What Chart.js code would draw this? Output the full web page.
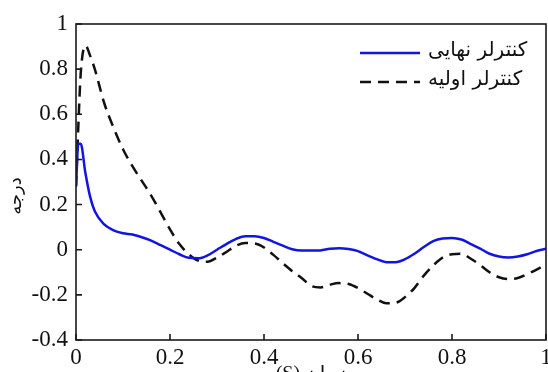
<!DOCTYPE html>
<html>
<head>
<meta charset="utf-8">
<script src="https://cdn.jsdelivr.net/npm/chart.js@4.4.0/dist/chart.umd.min.js"></script>
<style>
  html, body { margin: 0; padding: 0; background: #fff; }
  canvas { display: block; }
</style>
</head>
<body>
<canvas id="chart" width="548" height="372"></canvas>
<script>
// time axis (s)
const time = [0, 0.005, 0.01, 0.02, 0.03, 0.04, 0.06, 0.08, 0.1, 0.12, 0.14, 0.16, 0.18, 0.2,
  0.22, 0.24, 0.26, 0.28, 0.3, 0.32, 0.34, 0.36, 0.38, 0.4, 0.42, 0.44, 0.46, 0.48, 0.5,
  0.52, 0.54, 0.56, 0.58, 0.6, 0.62, 0.64, 0.66, 0.68, 0.7, 0.72, 0.74, 0.76, 0.78, 0.8,
  0.82, 0.84, 0.86, 0.88, 0.9, 0.92, 0.94, 0.96, 0.98, 1.0];

// final controller (blue, solid)
const finalCtrl = [0.28, 0.47, 0.47, 0.34, 0.235, 0.17, 0.112, 0.086, 0.073, 0.067, 0.055, 0.04, 0.02, 0.0,
  -0.02, -0.036, -0.038, -0.025, 0.0, 0.025, 0.047, 0.06, 0.06, 0.052, 0.035, 0.018, 0.002, -0.004, -0.004,
  -0.003, 0.004, 0.007, 0.003, -0.006, -0.025, -0.042, -0.055, -0.055, -0.042, -0.018, 0.012, 0.038, 0.05, 0.052,
  0.045, 0.025, 0.005, -0.018, -0.03, -0.034, -0.03, -0.02, -0.006, 0.004];

// initial controller (black, dashed)
const initialCtrl = [0.28, 0.55, 0.78, 0.905, 0.86, 0.8, 0.65, 0.54, 0.445, 0.37, 0.305, 0.24, 0.165, 0.09,
  0.025, -0.02, -0.048, -0.053, -0.035, -0.01, 0.017, 0.03, 0.028, 0.01, -0.023, -0.06, -0.095, -0.125, -0.16,
  -0.167, -0.155, -0.148, -0.152, -0.17, -0.195, -0.22, -0.237, -0.235, -0.21, -0.17, -0.115, -0.07, -0.035, -0.02,
  -0.018, -0.04, -0.068, -0.1, -0.122, -0.13, -0.125, -0.108, -0.088, -0.065];

const xTicks = [0, 0.2, 0.4, 0.6, 0.8, 1];
const yTicks = [-0.4, -0.2, 0, 0.2, 0.4, 0.6, 0.8, 1];
const seriesNames = ['کنترلر نهایی', 'کنترلر اولیه'];
const xTitle = '(S) زمان';
const yTitle = 'درجه';

const serif = "'Times New Roman', 'Liberation Serif', 'DejaVu Sans', serif";
const arabic = "'DejaVu Sans', sans-serif";

// box, inward ticks, y title and legend drawn on top of the chart
const framePlugin = {
  id: 'frame',
  afterDraw(chart) {
    const { ctx, chartArea: a, scales } = chart;
    ctx.save();
    ctx.strokeStyle = '#1a1a1a';
    ctx.lineWidth = 1.6;
    ctx.strokeRect(a.left, a.top, a.right - a.left, a.bottom - a.top);

    ctx.beginPath();
    for (const v of yTicks) {
      const y = scales.y.getPixelForValue(v);
      ctx.moveTo(a.left, y);
      ctx.lineTo(a.left + 6, y);
    }
    for (const v of xTicks) {
      const x = scales.x.getPixelForValue(v);
      ctx.moveTo(x, a.bottom);
      ctx.lineTo(x, a.bottom - 6);
    }
    ctx.stroke();

    // y axis title
    ctx.fillStyle = '#111';
    ctx.font = '18px ' + arabic;
    ctx.textAlign = 'center';
    ctx.textBaseline = 'middle';
    ctx.translate(16, 196);
    ctx.rotate(-Math.PI / 2);
    ctx.fillText(yTitle, 0, 0);
    ctx.restore();

    // legend
    ctx.save();
    const lineX = 360, lineLen = 60, rows = [53, 82];
    chart.data.datasets.forEach((ds, i) => {
      const y = rows[i];
      ctx.strokeStyle = ds.borderColor;
      ctx.lineWidth = ds.borderWidth;
      ctx.setLineDash(ds.borderDash || []);
      ctx.beginPath();
      ctx.moveTo(lineX, y);
      ctx.lineTo(lineX + lineLen, y);
      ctx.stroke();
      ctx.setLineDash([]);
      ctx.fillStyle = '#111';
      ctx.font = '20px ' + arabic;
      ctx.textAlign = 'left';
      ctx.textBaseline = 'middle';
      ctx.fillText(ds.label, lineX + lineLen + 8, y - 2);
    });
    ctx.restore();
  }
};

new Chart(document.getElementById('chart'), {
  type: 'line',
  data: {
    labels: time,
    datasets: [
      {
        label: seriesNames[0],
        data: time.map((t, i) => ({ x: t, y: finalCtrl[i] })),
        borderColor: '#1414e0',
        borderWidth: 2.5,
        pointRadius: 0,
        cubicInterpolationMode: 'monotone'
      },
      {
        label: seriesNames[1],
        data: time.map((t, i) => ({ x: t, y: initialCtrl[i] })),
        borderColor: '#111',
        borderWidth: 2.5,
        borderDash: [11, 7],
        pointRadius: 0,
        cubicInterpolationMode: 'monotone'
      }
    ]
  },
  options: {
    responsive: false,
    animation: false,
    devicePixelRatio: 1,
    layout: { padding: { top: 24, right: 2, left: 0, bottom: 0 } },
    plugins: {
      legend: { display: false },
      tooltip: { enabled: false }
    },
    scales: {
      x: {
        type: 'linear',
        min: 0,
        max: 1,
        afterBuildTicks: s => { s.ticks = xTicks.map(v => ({ value: v })); },
        afterFit: s => { s.height = 32; s.paddingLeft = 0; s.paddingRight = 0; },
        grid: { display: false, drawTicks: false },
        border: { display: false },
        ticks: {
          padding: 4,
          color: '#111',
          maxRotation: 0,
          font: { family: serif, size: 23 },
          callback: v => String(Math.round(v * 10) / 10)
        },
        title: {
          display: true,
          text: xTitle,
          color: '#111',
          font: { family: serif, size: 20 },
          padding: { top: 0, bottom: -15 }
        }
      },
      y: {
        min: -0.4,
        max: 1,
        afterBuildTicks: s => { s.ticks = yTicks.map(v => ({ value: v })); },
        afterFit: s => { s.width = 76; s.paddingTop = 0; s.paddingBottom = 0; },
        grid: { display: false, drawTicks: false },
        border: { display: false },
        ticks: {
          padding: 8,
          color: '#111',
          font: { family: serif, size: 23 },
          callback: v => String(Math.round(v * 10) / 10)
        }
      }
    }
  },
  plugins: [framePlugin]
});
</script>
</body>
</html>
